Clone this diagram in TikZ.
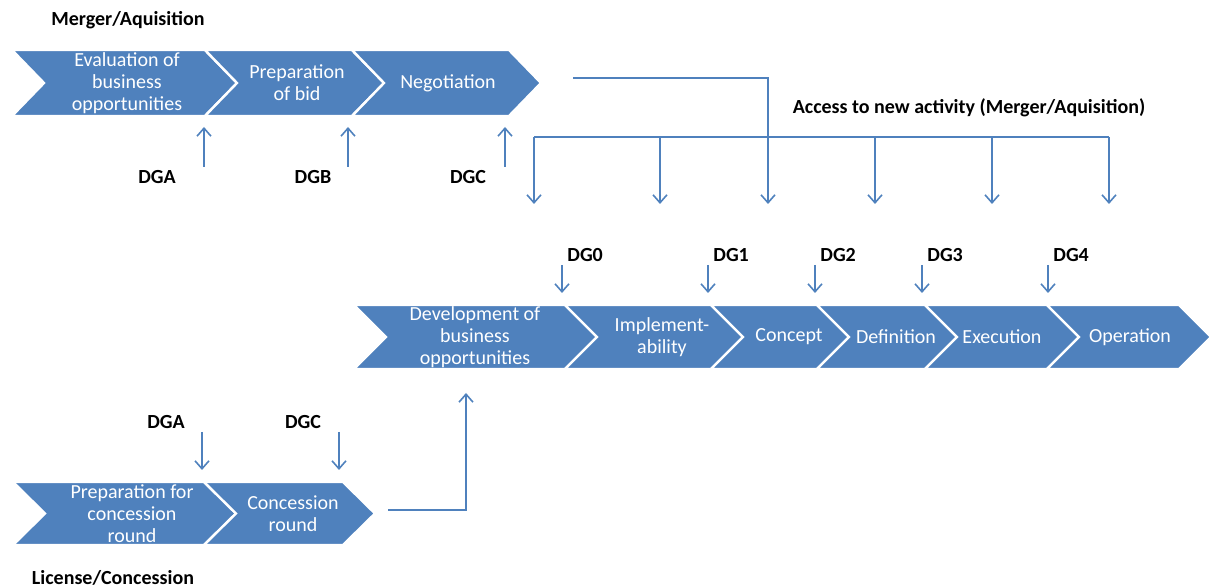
\documentclass[tikz,border=0pt]{standalone}
\usepackage{fontspec}
\setmainfont{Carlito}
\usetikzlibrary{arrows.meta}
\definecolor{phase}{RGB}{79,129,189}
\newcommand\stage[7]{%
  \fill[phase,draw=white,line width=1.2pt] (#2,#4) -- (#3,#4) -- (#3+32,{(#4+#5)/2}) -- (#3,#5) -- (#2,#5) -- (#2+32,{(#4+#5)/2}) -- cycle;
  \node[stagetext] (#1) at (#6,{(#4+#5)/2}) {#7};}

\begin{document}
\begin{tikzpicture}[x=0.5pt,y=-0.5pt,
    stagetext/.style={text=white,align=center,font=\fontsize{10}{11}\selectfont},
    lbl/.style={font=\fontsize{10}{11}\selectfont\bfseries,inner sep=0pt},
    arr/.style={phase,line width=0.8pt,-{Straight Barb[length=4pt,width=7pt]}},
    link/.style={phase,line width=0.8pt}]
\useasboundingbox (0,0) rectangle (1212,587);

\node[lbl] (ma) at (128,20) {Merger/Aquisition};
\stage{eval}{12}{205}{50}{116}{127}{Evaluation of\\business\\opportunities}
\stage{bid}{205}{352}{50}{116}{297}{Preparation\\of bid}
\stage{nego}{352}{509}{50}{116}{448}{Negotiation}
\foreach \lx/\x/\n in {157/204/A,313/348/B,468/505/C} {
  \node[lbl] (dg\n) at (\lx,177) {DG\n};
  \coordinate (u\n) at (\x,167);
  \coordinate (v\n) at (\x,127);
  \draw[arr] (u\n) -- (v\n);
}

\node[lbl] (acc) at (969,108) {Access to new activity (Merger/Aquisition)};
\coordinate (nout) at (573,78);
\coordinate (nend) at (768,204);
\draw[arr] (nout) -| (nend);
\coordinate (busl) at (534,137);
\coordinate (busr) at (1109,137);
\draw[link] (busl) -- (busr);
\foreach \x [count=\i] in {534,660,875,992,1109} {
  \coordinate (b\i) at (\x,137);
  \coordinate (t\i) at (\x,204);
  \draw[arr] (b\i) -- (t\i);
}

\stage{dev}{354}{565}{305}{369}{475}{Development of\\business\\opportunities}
\stage{impl}{565}{711}{305}{369}{662}{Implement-\\ability}
\stage{conc}{711}{817}{305}{369}{789}{Concept}
\stage{defi}{817}{925}{305}{369}{896}{Definition}
\stage{exec}{925}{1047}{305}{369}{1002}{Execution}
\stage{oper}{1047}{1179}{305}{369}{1130}{Operation}
\foreach \x/\n in {562/0,708/1,815/2,922/3,1048/4} {
  \node[lbl,anchor=west] (dg\n) at (\x+5,255) {DG\n};
  \coordinate (p\n) at (\x,265);
  \coordinate (q\n) at (\x,293);
  \draw[arr] (p\n) -- (q\n);
}

\node[lbl] (lA) at (166,422) {DGA};
\node[lbl] (lC) at (303,422) {DGC};
\coordinate (pa) at (202,432);
\coordinate (qa) at (202,470);
\coordinate (pc) at (339,432);
\coordinate (qc) at (339,470);
\draw[arr] (pa) -- (qa);
\draw[arr] (pc) -- (qc);
\stage{prep}{13}{204}{482}{545}{132}{Preparation for\\concession\\round}
\stage{round}{204}{343}{482}{545}{293}{Concession\\round}
\coordinate (rout) at (388,510);
\coordinate (rend) at (466,393);
\draw[arr] (rout) -| (rend);
\node[lbl] (lc) at (113,578) {License/Concession};
\end{tikzpicture}
\end{document}
